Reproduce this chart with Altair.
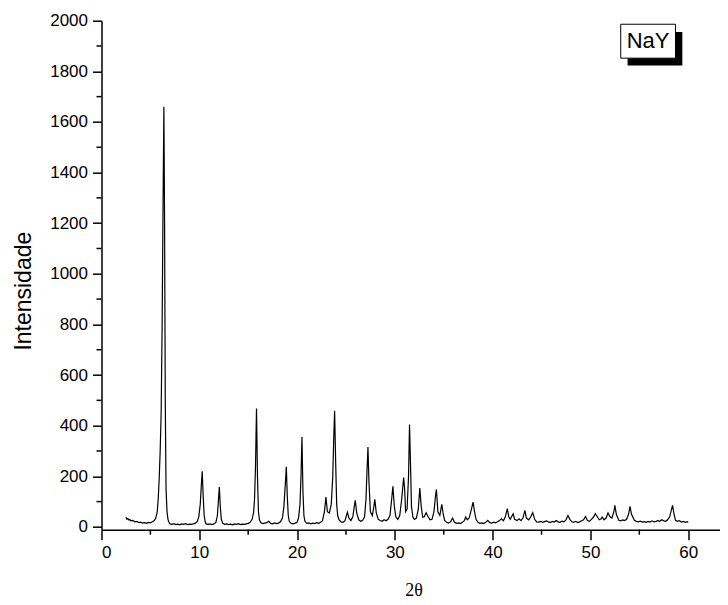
import altair as alt
import pandas as pd

# ---- data ----
two_theta = [
    2.5, 2.6, 2.7, 2.8, 2.9, 3.0, 3.2, 3.4, 3.6, 3.8, 4.0, 4.2, 4.4, 4.6, 4.8, 5.0, 5.2, 5.4, 5.55, 5.7,
    5.8, 5.9, 6.0, 6.1, 6.2, 6.3, 6.38, 6.45, 6.52, 6.6, 6.7, 6.8, 6.9, 7.0, 7.2, 7.4, 7.6, 7.8, 8.0, 8.2,
    8.4, 8.6, 8.8, 9.0, 9.2, 9.4, 9.6, 9.8, 9.95, 10.1, 10.2, 10.3, 10.4, 10.5, 10.6, 10.7, 10.9, 11.1, 11.3, 11.5,
    11.7, 11.85, 11.95, 12.05, 12.15, 12.25, 12.4, 12.6, 12.8, 13.0, 13.2, 13.4, 13.6, 13.8, 14.0, 14.2, 14.4, 14.6, 14.8, 15.0,
    15.2, 15.4, 15.55, 15.65, 15.75, 15.85, 15.95, 16.05, 16.15, 16.3, 16.5, 16.7, 16.9, 17.1, 17.3, 17.5, 17.7, 17.9, 18.1, 18.3,
    18.5, 18.65, 18.8, 18.9, 19.0, 19.1, 19.2, 19.4, 19.6, 19.8, 20.0, 20.15, 20.3, 20.4, 20.5, 20.6, 20.7, 20.8, 21.0, 21.2,
    21.4, 21.6, 21.8, 22.0, 22.2, 22.4, 22.6, 22.8, 22.95, 23.1, 23.3, 23.5, 23.65, 23.75, 23.84, 23.95, 24.05, 24.15, 24.3, 24.5,
    24.7, 24.9, 25.05, 25.15, 25.3, 25.5, 25.7, 25.85, 25.95, 26.1, 26.3, 26.5, 26.7, 26.9, 27.05, 27.15, 27.25, 27.35, 27.5, 27.7,
    27.85, 27.95, 28.1, 28.3, 28.5, 28.7, 28.9, 29.1, 29.3, 29.5, 29.65, 29.8, 29.95, 30.1, 30.3, 30.5, 30.7, 30.9, 31.0, 31.1,
    31.25, 31.4, 31.5, 31.6, 31.7, 31.85, 32.0, 32.2, 32.4, 32.55, 32.7, 32.85, 33.0, 33.2, 33.4, 33.6, 33.8, 34.0, 34.15, 34.25,
    34.4, 34.6, 34.8, 34.95, 35.1, 35.3, 35.5, 35.7, 35.9, 36.1, 36.3, 36.5, 36.7, 36.9, 37.1, 37.25, 37.4, 37.6, 37.8, 38.0,
    38.15, 38.3, 38.5, 38.7, 38.9, 39.1, 39.3, 39.5, 39.7, 39.9, 40.1, 40.3, 40.5, 40.7, 40.9, 41.1, 41.3, 41.5, 41.65, 41.8,
    42.0, 42.1, 42.25, 42.5, 42.7, 42.9, 43.1, 43.3, 43.45, 43.7, 43.9, 44.1, 44.3, 44.5, 44.7, 44.9, 45.1, 45.3, 45.5, 45.7,
    45.9, 46.1, 46.3, 46.5, 46.7, 46.9, 47.1, 47.3, 47.5, 47.7, 47.9, 48.1, 48.3, 48.5, 48.7, 48.9, 49.1, 49.3, 49.5, 49.7,
    49.9, 50.1, 50.3, 50.5, 50.7, 50.9, 51.1, 51.2, 51.4, 51.6, 51.8, 52.0, 52.2, 52.4, 52.5, 52.65, 52.9, 53.1, 53.3, 53.5,
    53.7, 53.9, 54.05, 54.2, 54.5, 54.7, 54.9, 55.1, 55.3, 55.5, 55.7, 55.9, 56.1, 56.3, 56.5, 56.7, 56.9, 57.1, 57.3, 57.5,
    57.7, 57.9, 58.1, 58.3, 58.4, 58.55, 58.7, 58.9, 59.1, 59.3, 59.5, 59.7, 59.9, 60.0,
]
intensity = [
    38, 30, 33, 27, 29, 24, 26, 20, 22, 17, 19, 15, 17, 14, 18, 16, 20, 25, 35, 60,
    110, 190, 300, 450, 800, 1300, 1660, 1200, 500, 150, 60, 30, 18, 12, 10, 13, 9, 11, 8, 12,
    10, 13, 9, 11, 10, 12, 15, 22, 40, 90, 160, 220, 120, 45, 20, 12, 10, 12, 9, 12,
    18, 45, 100, 158, 80, 30, 14, 10, 12, 9, 11, 8, 12, 10, 13, 9, 11, 10, 12, 14,
    18, 30, 55, 110, 240, 468, 200, 60, 28, 16, 13, 15, 17, 22, 14, 12, 16, 13, 15, 20,
    35, 80, 170, 238, 120, 45, 22, 14, 12, 15, 18, 35, 90, 200, 355, 140, 45, 22, 14, 16,
    12, 15, 13, 17, 14, 18, 25, 60, 118, 60, 55, 90, 200, 350, 458, 250, 90, 45, 28, 20,
    18, 25, 45, 58, 35, 25, 40, 80, 105, 55, 28, 22, 25, 40, 110, 220, 316, 180, 60, 45,
    80, 109, 55, 30, 25, 22, 28, 24, 30, 45, 100, 160, 80, 40, 30, 45, 110, 195, 150, 60,
    70, 200, 405, 250, 80, 38, 30, 35, 70, 154, 80, 38, 40, 56, 40, 28, 30, 60, 120, 148,
    60, 45, 89, 50, 25, 18, 15, 20, 35, 18, 14, 16, 13, 18, 25, 39, 28, 35, 65, 98,
    60, 30, 18, 14, 16, 13, 18, 26, 17, 15, 19, 16, 20, 25, 32, 24, 40, 72, 40, 30,
    45, 52, 30, 25, 32, 25, 35, 65, 35, 28, 40, 56, 30, 20, 19, 22, 18, 21, 24, 20,
    17, 22, 19, 25, 20, 18, 23, 20, 28, 45, 30, 20, 18, 22, 17, 20, 24, 28, 41, 25,
    22, 30, 38, 52, 40, 28, 32, 39, 28, 35, 55, 40, 35, 60, 85, 50, 26, 24, 28, 25,
    30, 50, 81, 50, 26, 22, 20, 23, 19, 21, 18, 22, 19, 24, 20, 22, 25, 22, 28, 24,
    22, 28, 40, 70, 85, 50, 26, 22, 25, 19, 22, 18, 21, 19,
]

x_major = [0, 10, 20, 30, 40, 50, 60]
x_minor = [5, 15, 25, 35, 45, 55]
y_major = [0, 200, 400, 600, 800, 1000, 1200, 1400, 1600, 1800, 2000]
y_minor = [100, 300, 500, 700, 900, 1100, 1300, 1500, 1700, 1900]

label_text = ["NaY"]
label_box = {"two_theta": [53.1], "two_theta2": [58.7], "intensity": [1986], "intensity2": [1852]}
label_shadow = {"two_theta": [53.8], "two_theta2": [59.4], "intensity": [1955], "intensity2": [1823]}
label_pos = {"two_theta": [55.9], "intensity": [1919]}

W, H = 618, 509
x_scale = alt.Scale(domain=[0, 63.2], nice=False, zero=False)
y_scale = alt.Scale(domain=[-11, 2000], nice=False, zero=False)
x_axis = alt.Axis(values=x_major, title="2θ", tickSize=10, labelPadding=5,
                  titleFont="Liberation Serif", titleFontSize=18, titleFontWeight="normal",
                  titlePadding=21, titleX=312, format="d")
y_axis = alt.Axis(values=y_major, title="Intensidade", tickSize=9, labelPadding=5,
                  titleFont="Liberation Sans", titleFontSize=23, titleFontWeight="normal",
                  titlePadding=14, titleY=270, format="d")


def X(field="two_theta"):
    return alt.X(f"{field}:Q", scale=x_scale, axis=x_axis)


def Y(field="intensity"):
    return alt.Y(f"{field}:Q", scale=y_scale, axis=y_axis)


df = pd.DataFrame({"two_theta": two_theta, "intensity": intensity})

line = alt.Chart(df).mark_line(color="black", strokeWidth=1.2).encode(x=X(), y=Y())

shadow = alt.Chart(pd.DataFrame(label_shadow)).mark_rect(color="black").encode(
    x=X(), x2="two_theta2:Q", y=Y(), y2="intensity2:Q"
)
box = alt.Chart(pd.DataFrame(label_box)).mark_rect(fill="white", stroke="black", strokeWidth=1).encode(
    x=X(), x2="two_theta2:Q", y=Y(), y2="intensity2:Q"
)
txt = alt.Chart(pd.DataFrame({**label_pos, "t": label_text})).mark_text(
    font="Liberation Sans", fontSize=22, color="black", align="center", baseline="middle"
).encode(x=X(), y=Y(), text="t:N")

ymin = alt.Chart(pd.DataFrame({"intensity": y_minor})).mark_rule(color="black", strokeWidth=1.5).encode(
    y=Y(), x=alt.value(-5), x2=alt.value(0)
)
xmin = alt.Chart(pd.DataFrame({"two_theta": x_minor})).mark_rule(color="black", strokeWidth=1.5).encode(
    x=X(), y=alt.value(H), y2=alt.value(H + 5)
)

chart = alt.layer(line, shadow, box, txt, ymin, xmin).properties(
    width=W, height=H,
    background="white",
    autosize=alt.AutoSizeParams(type="none"),
    padding={"left": 93.5, "top": 12.7, "right": 0, "bottom": 75},
).configure_view(stroke=None).configure_axis(
    grid=False, domainColor="black", domainWidth=1.5, tickColor="black", tickWidth=1.5,
    labelFont="Liberation Sans", labelFontSize=17, labelColor="black", titleColor="black",
)

chart.save("out.html", embed_options={"renderer": "svg", "actions": False})
